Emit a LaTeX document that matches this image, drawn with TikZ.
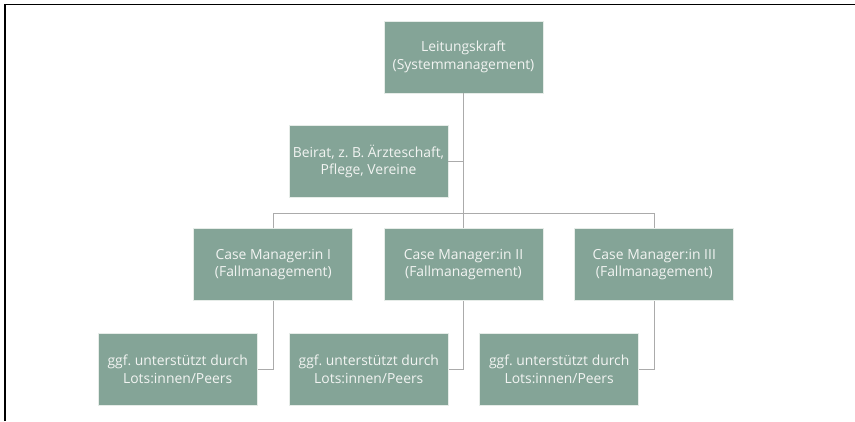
\documentclass[tikz,border=0pt]{standalone}
\usepackage{fontspec}
\setmainfont{Open Sans}
\frenchspacing
\definecolor{boxfill}{HTML}{84A497}
\definecolor{boxtext}{HTML}{F2F4F2}
\definecolor{boxedge}{HTML}{E6ECE8}
\definecolor{linkgray}{HTML}{ABABAB}
\begin{document}
\begin{tikzpicture}[x=1pt,y=-1pt,
  orgbox/.style={draw=boxedge, line width=0.8pt, fill=boxfill, text=boxtext,
    minimum width=159pt, minimum height=72pt, inner sep=0pt, align=center,
    font=\fontsize{13.9}{17.6}\selectfont},
  link/.style={draw=linkgray, line width=1pt}]
\useasboundingbox (0,0) rectangle (855,421);
% outer frame: top and left edges only
\draw[line width=1.2pt] (5,421) -- (5,4.5) -- (855,4.5);

\node[orgbox] (lead) at (463.5,57) {Leitungskraft\\(Systemmanagement)};
\node[orgbox] (board) at (368.5,161.5) {Beirat, z. B. Ärzteschaft,\\Pflege, Vereine};
\node[orgbox] (cm1) at (273.3,264.7) {Case Manager:in I\\(Fallmanagement)};
\node[orgbox] (cm2) at (463.5,264.7) {Case Manager:in II\\(Fallmanagement)};
\node[orgbox] (cm3) at (654.3,264.7) {Case Manager:in III\\(Fallmanagement)};
\node[orgbox] (peer1) at (177.7,369.5) {ggf. unterstützt durch\\Lots:innen/Peers};
\node[orgbox] (peer2) at (368.8,369.5) {ggf. unterstützt durch\\Lots:innen/Peers};
\node[orgbox] (peer3) at (559.2,369.5) {ggf. unterstützt durch\\Lots:innen/Peers};

\coordinate (bus) at (463.5,213.3);
% trunk from the lead down to the bus
\draw[link] (lead.south) -- (bus);
\draw[link] (board.east) -- (board.east -| lead.south);
% bus branching to the three case managers
\draw[link] (cm1.north) |- (bus) -| (cm3.north);
\draw[link] (bus) -- (cm2.north);
% case managers to their supporting peers
\draw[link] (cm1.south) |- (peer1.east);
\draw[link] (cm2.south) |- (peer2.east);
\draw[link] (cm3.south) |- (peer3.east);
\end{tikzpicture}
\end{document}
